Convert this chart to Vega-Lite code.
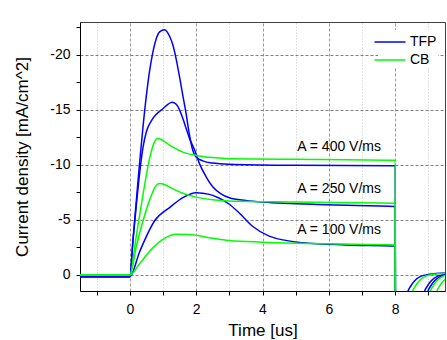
{
  "$schema": "https://vega.github.io/schema/vega-lite/v6.json",
  "width": 365,
  "height": 269,
  "autosize": "none",
  "padding": {"left": 80, "top": 22, "right": 2, "bottom": 49},
  "background": "white",
  "config": {
    "view": {"stroke": "#404040", "strokeWidth": 1},
    "font": "Liberation Sans",
    "axis": {"labelFont": "Liberation Sans", "titleFont": "Liberation Sans", "labelColor": "black", "titleColor": "black", "domainColor": "black", "tickColor": "black", "titleFontWeight": "normal"}
  },
  "datasets": {
    "curves": [
      {"s":"TFP","A":400,"t":-1.5,"I":0.2},{"s":"TFP","A":400,"t":0,"I":0.2},{"s":"TFP","A":400,"t":0.1,"I":-3.3},{"s":"TFP","A":400,"t":0.2,"I":-6.8},{"s":"TFP","A":400,"t":0.3,"I":-10.3},{"s":"TFP","A":400,"t":0.4,"I":-13.5},{"s":"TFP","A":400,"t":0.5,"I":-16.3},{"s":"TFP","A":400,"t":0.6,"I":-18.6},{"s":"TFP","A":400,"t":0.7,"I":-20.3},{"s":"TFP","A":400,"t":0.8,"I":-21.5},{"s":"TFP","A":400,"t":0.9,"I":-22.1},{"s":"TFP","A":400,"t":1.05,"I":-22.3},{"s":"TFP","A":400,"t":1.2,"I":-21.7},{"s":"TFP","A":400,"t":1.3,"I":-20.9},{"s":"TFP","A":400,"t":1.4,"I":-19.6},{"s":"TFP","A":400,"t":1.5,"I":-18},{"s":"TFP","A":400,"t":1.6,"I":-16.3},{"s":"TFP","A":400,"t":1.7,"I":-14.6},{"s":"TFP","A":400,"t":1.8,"I":-12.7},{"s":"TFP","A":400,"t":1.9,"I":-11.3},{"s":"TFP","A":400,"t":2.0,"I":-10.7},{"s":"TFP","A":400,"t":2.2,"I":-10.35},{"s":"TFP","A":400,"t":2.5,"I":-10.15},{"s":"TFP","A":400,"t":3,"I":-10.05},{"s":"TFP","A":400,"t":5,"I":-9.95},{"s":"TFP","A":400,"t":8,"I":-9.9},{"s":"TFP","A":400,"t":8.01,"I":12},{"s":"TFP","A":400,"t":8.28,"I":3},{"s":"TFP","A":400,"t":8.38,"I":1.57},{"s":"TFP","A":400,"t":8.48,"I":1.0},{"s":"TFP","A":400,"t":8.58,"I":0.6},{"s":"TFP","A":400,"t":8.78,"I":0.15},{"s":"TFP","A":400,"t":9.03,"I":-0.02},{"s":"TFP","A":400,"t":9.5,"I":-0.15},

      {"s":"TFP","A":250,"t":-1.5,"I":0.2},{"s":"TFP","A":250,"t":0,"I":0.2},{"s":"TFP","A":250,"t":0.1,"I":-3.2},{"s":"TFP","A":250,"t":0.2,"I":-6.4},{"s":"TFP","A":250,"t":0.3,"I":-9.3},{"s":"TFP","A":250,"t":0.4,"I":-11.6},{"s":"TFP","A":250,"t":0.5,"I":-13.0},{"s":"TFP","A":250,"t":0.65,"I":-14.0},{"s":"TFP","A":250,"t":0.8,"I":-14.6},{"s":"TFP","A":250,"t":1.0,"I":-15.1},{"s":"TFP","A":250,"t":1.15,"I":-15.5},{"s":"TFP","A":250,"t":1.27,"I":-15.7},{"s":"TFP","A":250,"t":1.4,"I":-15.5},{"s":"TFP","A":250,"t":1.5,"I":-15},{"s":"TFP","A":250,"t":1.6,"I":-14.2},{"s":"TFP","A":250,"t":1.7,"I":-13.3},{"s":"TFP","A":250,"t":1.8,"I":-12.4},{"s":"TFP","A":250,"t":1.96,"I":-11.3},{"s":"TFP","A":250,"t":2.1,"I":-10.1},{"s":"TFP","A":250,"t":2.3,"I":-8.9},{"s":"TFP","A":250,"t":2.5,"I":-8.0},{"s":"TFP","A":250,"t":2.75,"I":-7.35},{"s":"TFP","A":250,"t":3.0,"I":-7.0},{"s":"TFP","A":250,"t":3.5,"I":-6.75},{"s":"TFP","A":250,"t":4,"I":-6.6},{"s":"TFP","A":250,"t":6,"I":-6.35},{"s":"TFP","A":250,"t":8,"I":-6.2},{"s":"TFP","A":250,"t":8.01,"I":12},{"s":"TFP","A":250,"t":8.78,"I":3},{"s":"TFP","A":250,"t":8.88,"I":1.57},{"s":"TFP","A":250,"t":8.98,"I":1.0},{"s":"TFP","A":250,"t":9.08,"I":0.6},{"s":"TFP","A":250,"t":9.28,"I":0.15},{"s":"TFP","A":250,"t":9.53,"I":-0.02},

      {"s":"TFP","A":100,"t":-1.5,"I":0.2},{"s":"TFP","A":100,"t":0,"I":0.2},{"s":"TFP","A":100,"t":0.3,"I":-2.1},{"s":"TFP","A":100,"t":0.75,"I":-4.9},{"s":"TFP","A":100,"t":1.2,"I":-6.1},{"s":"TFP","A":100,"t":1.6,"I":-7.0},{"s":"TFP","A":100,"t":2.0,"I":-7.45},{"s":"TFP","A":100,"t":2.4,"I":-7.3},{"s":"TFP","A":100,"t":2.7,"I":-6.95},{"s":"TFP","A":100,"t":3.0,"I":-6.4},{"s":"TFP","A":100,"t":3.3,"I":-5.6},{"s":"TFP","A":100,"t":3.7,"I":-4.4},{"s":"TFP","A":100,"t":4.2,"I":-3.5},{"s":"TFP","A":100,"t":5.2,"I":-2.9},{"s":"TFP","A":100,"t":6.5,"I":-2.7},{"s":"TFP","A":100,"t":8,"I":-2.6},{"s":"TFP","A":100,"t":8.01,"I":12},{"s":"TFP","A":100,"t":8.88,"I":3},{"s":"TFP","A":100,"t":8.98,"I":1.57},{"s":"TFP","A":100,"t":9.08,"I":1.0},{"s":"TFP","A":100,"t":9.18,"I":0.6},{"s":"TFP","A":100,"t":9.38,"I":0.15},{"s":"TFP","A":100,"t":9.63,"I":-0.02},

      {"s":"CB","A":400,"t":-1.5,"I":0.05},{"s":"CB","A":400,"t":0,"I":0.05},{"s":"CB","A":400,"t":0.2,"I":-3.6},{"s":"CB","A":400,"t":0.4,"I":-7.3},{"s":"CB","A":400,"t":0.6,"I":-10.6},{"s":"CB","A":400,"t":0.72,"I":-11.9},{"s":"CB","A":400,"t":0.83,"I":-12.4},{"s":"CB","A":400,"t":0.95,"I":-12.3},{"s":"CB","A":400,"t":1.1,"I":-12.0},{"s":"CB","A":400,"t":1.3,"I":-11.6},{"s":"CB","A":400,"t":1.6,"I":-11.15},{"s":"CB","A":400,"t":2.0,"I":-10.85},{"s":"CB","A":400,"t":2.5,"I":-10.65},{"s":"CB","A":400,"t":3,"I":-10.55},{"s":"CB","A":400,"t":5,"I":-10.5},{"s":"CB","A":400,"t":8,"I":-10.4},{"s":"CB","A":400,"t":8.01,"I":12},{"s":"CB","A":400,"t":8.42,"I":3},{"s":"CB","A":400,"t":8.52,"I":1.57},{"s":"CB","A":400,"t":8.62,"I":1.0},{"s":"CB","A":400,"t":8.72,"I":0.6},{"s":"CB","A":400,"t":8.92,"I":0.15},{"s":"CB","A":400,"t":9.17,"I":-0.02},{"s":"CB","A":400,"t":9.5,"I":-0.12},

      {"s":"CB","A":250,"t":-1.5,"I":0.05},{"s":"CB","A":250,"t":0,"I":0.05},{"s":"CB","A":250,"t":0.2,"I":-2.6},{"s":"CB","A":250,"t":0.4,"I":-4.9},{"s":"CB","A":250,"t":0.6,"I":-6.8},{"s":"CB","A":250,"t":0.75,"I":-7.9},{"s":"CB","A":250,"t":0.9,"I":-8.3},{"s":"CB","A":250,"t":1.05,"I":-8.2},{"s":"CB","A":250,"t":1.3,"I":-7.8},{"s":"CB","A":250,"t":1.6,"I":-7.4},{"s":"CB","A":250,"t":2.0,"I":-7.05},{"s":"CB","A":250,"t":2.5,"I":-6.8},{"s":"CB","A":250,"t":3,"I":-6.7},{"s":"CB","A":250,"t":5,"I":-6.6},{"s":"CB","A":250,"t":8,"I":-6.5},{"s":"CB","A":250,"t":8.01,"I":12},{"s":"CB","A":250,"t":8.95,"I":3},{"s":"CB","A":250,"t":9.05,"I":1.57},{"s":"CB","A":250,"t":9.15,"I":1.0},{"s":"CB","A":250,"t":9.25,"I":0.6},{"s":"CB","A":250,"t":9.45,"I":0.15},{"s":"CB","A":250,"t":9.7,"I":-0.02},

      {"s":"CB","A":100,"t":-1.5,"I":0.05},{"s":"CB","A":100,"t":0,"I":0.05},{"s":"CB","A":100,"t":0.3,"I":-1.0},{"s":"CB","A":100,"t":0.7,"I":-2.45},{"s":"CB","A":100,"t":1.0,"I":-3.2},{"s":"CB","A":100,"t":1.4,"I":-3.67},{"s":"CB","A":100,"t":1.8,"I":-3.65},{"s":"CB","A":100,"t":2.5,"I":-3.3},{"s":"CB","A":100,"t":3,"I":-3.1},{"s":"CB","A":100,"t":4,"I":-2.95},{"s":"CB","A":100,"t":6,"I":-2.8},{"s":"CB","A":100,"t":8,"I":-2.7},{"s":"CB","A":100,"t":8.01,"I":12},{"s":"CB","A":100,"t":9.15,"I":3},{"s":"CB","A":100,"t":9.25,"I":1.57},{"s":"CB","A":100,"t":9.35,"I":1.0},{"s":"CB","A":100,"t":9.45,"I":0.6},{"s":"CB","A":100,"t":9.65,"I":0.15}
    ],
    "labels": [
      {"label":"A = 400 V/ms","t":5.05,"I":-11.66},
      {"label":"A = 250 V/ms","t":5.05,"I":-7.77},
      {"label":"A = 100 V/ms","t":5.05,"I":-4.06}
    ]
  },
  "encoding": {
    "x": {"field": "t", "type": "quantitative",
      "scale": {"domain": [-1.5, 9.5], "nice": false, "zero": false},
      "axis": {"title": "Time [us]", "values": [-1,0,1,2,3,4,5,6,7,8,9],
        "labelExpr": "floor(datum.value / 2) == datum.value / 2 ? datum.label : ''",
        "grid": true,
        "gridColor": {"condition": {"test": "floor(datum.value / 2) == datum.value / 2", "value": "#999999"}, "value": "#c4c4c4"},
        "gridDash": {"condition": {"test": "floor(datum.value / 2) == datum.value / 2", "value": [3, 2]}, "value": [1, 2]},
        "gridWidth": 1,
        "tickSize": 4, "labelPadding": 7, "labelFontSize": 14, "titleFontSize": 17, "titlePadding": 6, "labelFlush": false}},
    "y": {"field": "I", "type": "quantitative",
      "scale": {"domain": [-23, 1.5], "reverse": true, "nice": false, "zero": false},
      "axis": {"title": "Current density [mA/cm^2]",
        "values": [-22.5,-20,-17.5,-15,-12.5,-10,-7.5,-5,-2.5,0],
        "labelExpr": "floor(datum.value / 5) == datum.value / 5 ? replace(datum.label, '\u2212', '-') : ''",
        "grid": true,
        "gridColor": "#808080",
        "gridDash": [3, 2],
        "gridOpacity": {"condition": {"test": "floor(datum.value / 5) == datum.value / 5", "value": 1}, "value": 0},
        "tickSize": 4, "labelPadding": 6, "labelFontSize": 14, "titleFontSize": 17, "titlePadding": 18, "labelFlush": false}}
  },
  "layer": [
    {
      "data": {"name": "curves"},
      "mark": {"type": "line", "clip": true, "strokeWidth": 1.5, "interpolate": "monotone"},
      "encoding": {
        "color": {"field": "s", "type": "nominal",
          "scale": {"domain": ["TFP", "CB"], "range": ["#0000ff", "#00ff00"]},
          "legend": {"title": null, "orient": "none", "legendX": 298, "legendY": 8,
            "symbolType": "M-1.55,0H1.55", "symbolSize": 400, "symbolStrokeWidth": 1.5,
            "labelFontSize": 14, "labelFont": "Liberation Sans", "labelColor": "black", "labelOffset": 9,
            "rowPadding": 0, "padding": 1, "fillColor": "white"}},
        "detail": {"field": "A", "type": "nominal"}
      }
    },
    {
      "data": {"name": "labels"},
      "mark": {"type": "text", "align": "left", "baseline": "middle", "font": "Liberation Sans", "fontSize": 14, "color": "black"},
      "encoding": {
        "text": {"field": "label"}
      }
    }
  ]
}
